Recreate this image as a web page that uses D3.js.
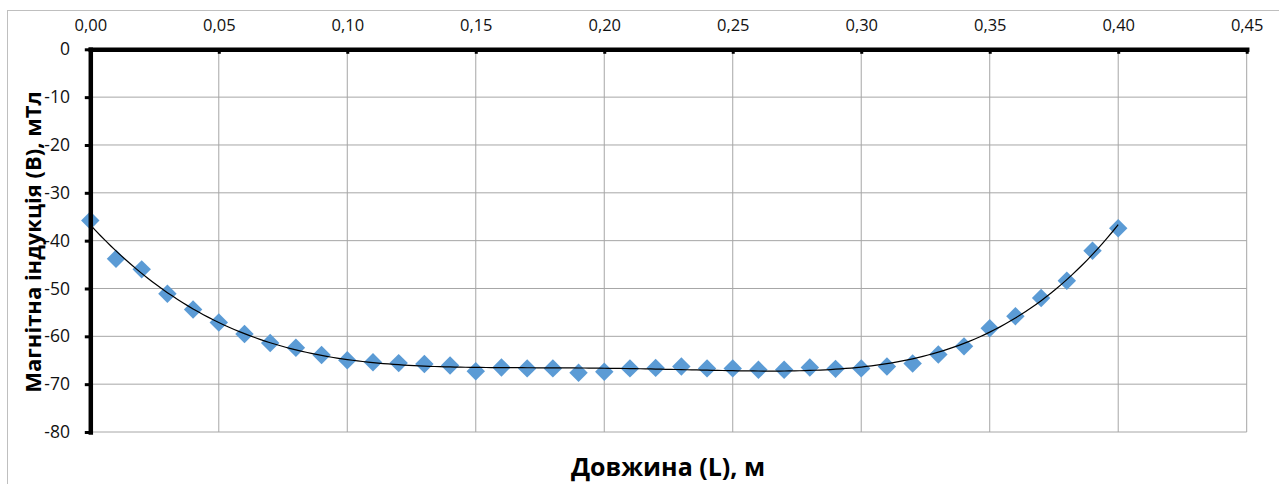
<!DOCTYPE html>
<html>
<head>
<meta charset="utf-8">
<script src="https://cdn.jsdelivr.net/npm/d3@7/dist/d3.min.js"></script>
<style>
  html, body { margin: 0; padding: 0; background: #fff; }
  svg { display: block; font-family: "Open Sans", sans-serif; }
</style>
</head>
<body>
<svg id="chart" width="1279" height="484"></svg>
<script>
// Measured field along the length of the sample
const lengths = [0.00, 0.01, 0.02, 0.03, 0.04, 0.05, 0.06, 0.07, 0.08, 0.09,
                 0.10, 0.11, 0.12, 0.13, 0.14, 0.15, 0.16, 0.17, 0.18, 0.19,
                 0.20, 0.21, 0.22, 0.23, 0.24, 0.25, 0.26, 0.27, 0.28, 0.29,
                 0.30, 0.31, 0.32, 0.33, 0.34, 0.35, 0.36, 0.37, 0.38, 0.39, 0.40];
const inductionValues = [-35.8, -43.8, -46.0, -51.1, -54.4, -57.1, -59.5, -61.4, -62.4, -63.9,
                         -65.0, -65.4, -65.6, -65.8, -66.1, -67.3, -66.5, -66.7, -66.7, -67.6,
                         -67.4, -66.7, -66.6, -66.3, -66.7, -66.7, -67.0, -67.0, -66.5, -66.8,
                         -66.7, -66.3, -65.7, -63.8, -62.1, -58.3, -55.8, -52.0, -48.4, -42.1, -37.4];
const xTicks = [0, 0.05, 0.10, 0.15, 0.20, 0.25, 0.30, 0.35, 0.40, 0.45];
const yTicks = [0, -10, -20, -30, -40, -50, -60, -70, -80];
const xTitle = "Довжина (L), м";
const yTitle = "Магнітна індукція (В), мТл";

const svg = d3.select("#chart");

// chart frame
svg.append("rect")
  .attr("x", 7.5).attr("y", 10.5)
  .attr("width", 1300).attr("height", 500)
  .attr("fill", "#fff").attr("stroke", "#BFBFBF").attr("stroke-width", 1);

const x = d3.scaleLinear().domain([0, 0.45]).range([90.3, 1246.7]);
const y = d3.scaleLinear().domain([0, -80]).range([49.3, 432]);

// gridlines
const grid = svg.append("g").attr("stroke", "#A6A6A6").attr("stroke-width", 1);
grid.selectAll("line.v").data(xTicks).join("line")
  .attr("class", "v")
  .attr("x1", d => x(d)).attr("x2", d => x(d))
  .attr("y1", y(0)).attr("y2", y(-80));
grid.selectAll("line.h").data(yTicks).join("line")
  .attr("class", "h")
  .attr("x1", x(0)).attr("x2", x(0.45))
  .attr("y1", d => y(d)).attr("y2", d => y(d));

// markers
const diamond = d3.symbol(d3.symbolSquare, 170)();
const pts = lengths.map((l, i) => [l, inductionValues[i]]);
svg.append("g").selectAll("path").data(pts).join("path")
  .attr("d", diamond)
  .attr("transform", d => `translate(${x(d[0])},${y(d[1])}) rotate(45)`)
  .attr("fill", "#5B9BD5");

// polynomial trendline (least squares, order 6)
function polyfit(xs, ys, deg) {
  const n = deg + 1;
  const A = Array.from({length: n}, () => new Array(n).fill(0));
  const b = new Array(n).fill(0);
  xs.forEach((xv, k) => {
    for (let i = 0; i < n; i++) {
      b[i] += ys[k] * Math.pow(xv, i);
      for (let j = 0; j < n; j++) A[i][j] += Math.pow(xv, i + j);
    }
  });
  for (let c = 0; c < n; c++) {
    let p = c;
    for (let r = c + 1; r < n; r++) if (Math.abs(A[r][c]) > Math.abs(A[p][c])) p = r;
    [A[c], A[p]] = [A[p], A[c]]; [b[c], b[p]] = [b[p], b[c]];
    for (let r = c + 1; r < n; r++) {
      const f = A[r][c] / A[c][c];
      for (let j = c; j < n; j++) A[r][j] -= f * A[c][j];
      b[r] -= f * b[c];
    }
  }
  const coef = new Array(n).fill(0);
  for (let i = n - 1; i >= 0; i--) {
    let s = b[i];
    for (let j = i + 1; j < n; j++) s -= A[i][j] * coef[j];
    coef[i] = s / A[i][i];
  }
  return coef;
}
const span = d3.max(lengths);
const coef = polyfit(lengths.map(l => l / span), inductionValues, 6);
const evalPoly = t => coef.reduce((s, c, i) => s + c * Math.pow(t, i), 0);
const curve = d3.range(0, 201).map(i => {
  const l = span * i / 200;
  return [l, evalPoly(l / span)];
});
svg.append("path")
  .datum(curve)
  .attr("d", d3.line().x(d => x(d[0])).y(d => y(d[1])))
  .attr("fill", "none").attr("stroke", "#000").attr("stroke-width", 1.2);

// axes
const fmtX = d => d.toFixed(2).replace(".", ",");
const xAxis = svg.append("g")
  .attr("transform", `translate(0,${y(0)})`)
  .call(d3.axisTop(x).tickValues(xTicks).tickFormat(fmtX)
        .tickSizeInner(-4.5).tickSizeOuter(0).tickPadding(18.6));
xAxis.select(".domain").attr("stroke", "#000").attr("stroke-width", 4.5)
  .attr("stroke-linecap", "square");
xAxis.selectAll(".tick line").attr("stroke", "#000").attr("stroke-width", 3);
xAxis.selectAll(".tick text")
  .attr("font-size", 16.5).attr("fill", "#111").attr("font-family", "Open Sans");

const yAxis = svg.append("g")
  .attr("transform", `translate(${x(0)},0)`)
  .call(d3.axisLeft(y).tickValues(yTicks).tickFormat(d => String(d))
        .tickSizeInner(5.5).tickSizeOuter(0).tickPadding(14.8));
yAxis.select(".domain").attr("stroke", "#000").attr("stroke-width", 4.5)
  .attr("stroke-linecap", "square");
yAxis.selectAll(".tick line").attr("stroke", "#000").attr("stroke-width", 3);
yAxis.selectAll(".tick text")
  .attr("font-size", 17.5).attr("fill", "#111").attr("font-family", "Open Sans");

// axis titles
svg.append("text")
  .attr("x", 668).attr("y", 476)
  .attr("text-anchor", "middle")
  .attr("font-size", 25).attr("font-weight", "bold").attr("fill", "#000")
  .text(xTitle);
svg.append("text")
  .attr("transform", "translate(41,242) rotate(-90)")
  .attr("text-anchor", "middle")
  .attr("font-size", 22).attr("font-weight", "bold").attr("fill", "#000")
  .text(yTitle);
</script>
</body>
</html>
